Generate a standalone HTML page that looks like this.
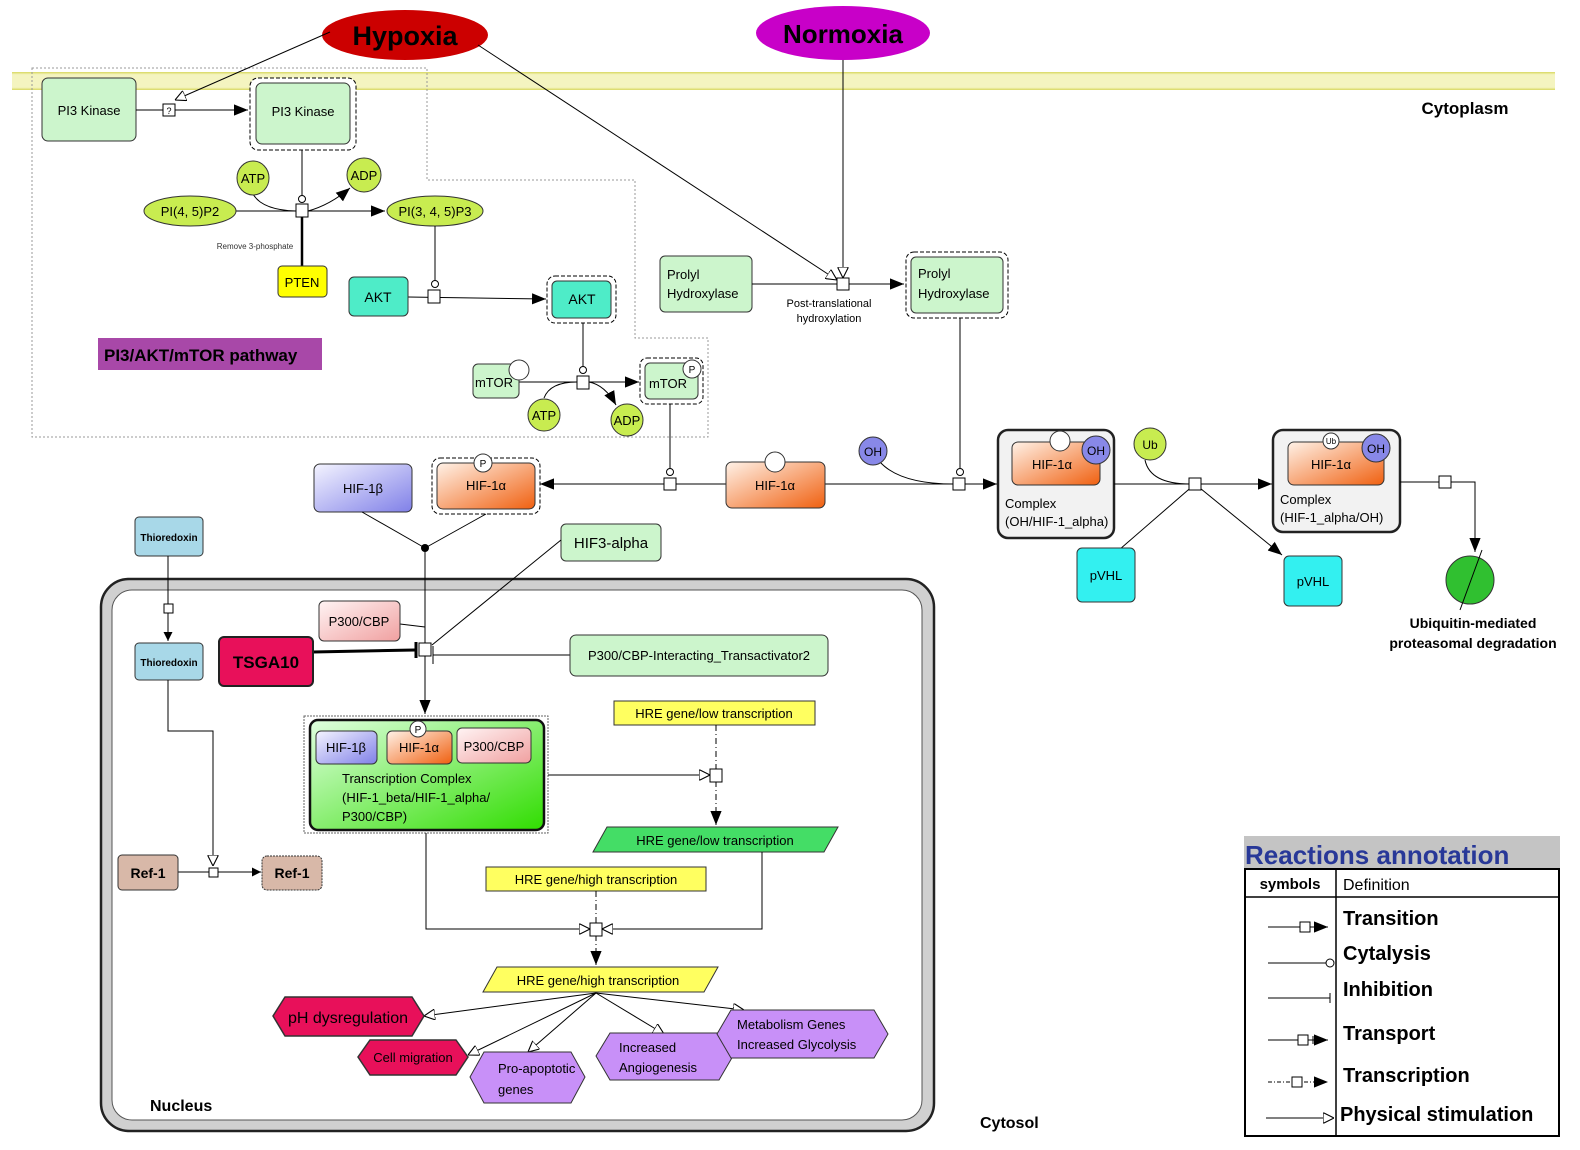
<!DOCTYPE html>
<html><head><meta charset="utf-8"><style>body{margin:0;background:#fff}svg{display:block}text{font-family:"Liberation Sans",sans-serif}</style></head><body>
<svg width="1580" height="1150" viewBox="0 0 1580 1150" xmlns="http://www.w3.org/2000/svg">
<defs>
<marker id="a" viewBox="0 0 10 10" refX="10" refY="5" markerWidth="9" markerHeight="9" orient="auto" markerUnits="userSpaceOnUse"><path d="M0,0L10,5L0,10z" fill="#000"/></marker>
<marker id="a2" viewBox="0 0 10 10" refX="10" refY="5" markerWidth="14" markerHeight="14" orient="auto" markerUnits="userSpaceOnUse"><path d="M0,1L10,5L0,9z" fill="#000"/></marker>
<marker id="o" viewBox="0 0 10 10" refX="10" refY="5" markerWidth="11" markerHeight="11" orient="auto" markerUnits="userSpaceOnUse"><path d="M0,0L10,5L0,10z" fill="#fff" stroke="#000" stroke-width="1"/></marker>
<linearGradient id="or" x1="0" y1="0" x2="1" y2="1"><stop offset="0" stop-color="#fff2e8"/><stop offset="1" stop-color="#f06010"/></linearGradient>
<linearGradient id="bl" x1="0" y1="0" x2="1" y2="1"><stop offset="0" stop-color="#f4f4ff"/><stop offset="1" stop-color="#8080e8"/></linearGradient>
<linearGradient id="pk" x1="0" y1="0" x2="1" y2="1"><stop offset="0" stop-color="#fff4f4"/><stop offset="1" stop-color="#f0a0a0"/></linearGradient>
<linearGradient id="gr" x1="0" y1="0" x2="1" y2="1"><stop offset="0" stop-color="#e0ffe0"/><stop offset="1" stop-color="#30dd00"/></linearGradient>
<linearGradient id="mb" x1="0" y1="0" x2="0" y2="1"><stop offset="0" stop-color="#d8d860"/><stop offset="0.15" stop-color="#f4f4c0"/><stop offset="0.85" stop-color="#f4f4c0"/><stop offset="1" stop-color="#d8d860"/></linearGradient>
</defs>

<!-- membrane -->
<rect x="12" y="72" width="1543" height="18" fill="url(#mb)"/>
<text x="1465" y="114" font-size="17" font-weight="bold" text-anchor="middle">Cytoplasm</text>

<!-- pathway region -->
<path d="M32,68H427V180H635V338H708V437H32Z" fill="none" stroke="#999" stroke-dasharray="2,2"/>

<!-- Hypoxia / Normoxia -->
<ellipse cx="405" cy="35" rx="83" ry="25" fill="#cc0000"/>
<text x="405" y="45" font-size="27" font-weight="bold" text-anchor="middle">Hypoxia</text>
<ellipse cx="843" cy="33" rx="87" ry="27" fill="#c800c8"/>
<text x="843" y="43" font-size="26" font-weight="bold" text-anchor="middle">Normoxia</text>
<line x1="330" y1="32" x2="175" y2="100" stroke="#000" marker-end="url(#o)"/>
<line x1="478" y1="45" x2="837" y2="280" stroke="#000" marker-end="url(#o)"/>
<line x1="843" y1="60" x2="843" y2="278" stroke="#000" marker-end="url(#o)"/>

<!-- PI3K -->
<rect x="42" y="78" width="94" height="63" rx="6" fill="#ccf5cc" stroke="#333"/>
<text x="89" y="115" font-size="13" text-anchor="middle">PI3 Kinase</text>
<line x1="136" y1="110" x2="248" y2="110" stroke="#000" marker-end="url(#a2)"/>
<rect x="163" y="104" width="12" height="12" fill="#fff" stroke="#000"/><text x="169" y="114" font-size="9" text-anchor="middle">?</text>
<rect x="250" y="78" width="106" height="72" rx="8" fill="#fff" stroke="#000" stroke-dasharray="4,2"/>
<rect x="256" y="83" width="94" height="61" rx="6" fill="#ccf5cc" stroke="#333"/>
<text x="303" y="116" font-size="13" text-anchor="middle">PI3 Kinase</text>

<line x1="302" y1="150" x2="302" y2="196" stroke="#000"/><circle cx="302" cy="199" r="3.5" fill="#fff" stroke="#000"/>
<line x1="236" y1="211" x2="385" y2="211" stroke="#000" marker-end="url(#a2)"/>
<path d="M253,194Q262,210 296,211" fill="none" stroke="#000"/>
<path d="M308,211Q330,205 350,188" fill="none" stroke="#000" marker-end="url(#a2)"/>
<line x1="302" y1="216" x2="302" y2="266" stroke="#000" stroke-width="2.5"/>
<rect x="296" y="204" width="12" height="13" fill="#fff" stroke="#000"/>
<ellipse cx="253" cy="178" rx="16" ry="17" fill="#c8ec50" stroke="#333"/><text x="253" y="183" font-size="13" text-anchor="middle">ATP</text>
<ellipse cx="364" cy="175" rx="17" ry="17" fill="#c8ec50" stroke="#333"/><text x="364" y="180" font-size="13" text-anchor="middle">ADP</text>
<ellipse cx="190" cy="211" rx="46" ry="15" fill="#c8ec50" stroke="#333"/><text x="190" y="216" font-size="13" text-anchor="middle">PI(4, 5)P2</text>
<ellipse cx="435" cy="211" rx="48" ry="15" fill="#c8ec50" stroke="#333"/><text x="435" y="216" font-size="13" text-anchor="middle">PI(3, 4, 5)P3</text>
<text x="255" y="249" font-size="8" text-anchor="middle" fill="#333">Remove 3-phosphate</text>
<rect x="278" y="266" width="49" height="31" rx="4" fill="#ffff00" stroke="#333"/><text x="302" y="287" font-size="13" text-anchor="middle">PTEN</text>

<!-- AKT -->
<line x1="435" y1="226" x2="435" y2="281" stroke="#000"/><circle cx="435" cy="284" r="3.5" fill="#fff" stroke="#000"/>
<line x1="408" y1="297" x2="546" y2="299" stroke="#000" marker-end="url(#a2)"/>
<rect x="428" y="290" width="12" height="13" fill="#fff" stroke="#000"/>
<rect x="349" y="277" width="59" height="39" rx="5" fill="#4eecc8" stroke="#333"/><text x="378" y="302" font-size="14" text-anchor="middle">AKT</text>
<rect x="547" y="276" width="69" height="47" rx="8" fill="#fff" stroke="#000" stroke-dasharray="4,2"/>
<rect x="552" y="281" width="59" height="37" rx="5" fill="#4eecc8" stroke="#333"/><text x="582" y="304" font-size="14" text-anchor="middle">AKT</text>

<rect x="98" y="338" width="224" height="32" fill="#a848a8"/>
<text x="104" y="361" font-size="17" font-weight="bold">PI3/AKT/mTOR pathway</text>

<!-- mTOR -->
<line x1="583" y1="323" x2="583" y2="367" stroke="#000"/><circle cx="583" cy="370" r="3.5" fill="#fff" stroke="#000"/>
<line x1="519" y1="382" x2="639" y2="382" stroke="#000" marker-end="url(#a2)"/>
<path d="M544,398Q550,382 577,382" fill="none" stroke="#000"/>
<path d="M589,382Q605,385 616,405" fill="none" stroke="#000" marker-end="url(#a2)"/>
<rect x="577" y="376" width="12" height="13" fill="#fff" stroke="#000"/>
<rect x="473" y="364" width="46" height="34" rx="5" fill="#ccf5cc" stroke="#333"/><text x="494" y="387" font-size="13" text-anchor="middle">mTOR</text>
<circle cx="519" cy="370" r="10" fill="#fff" stroke="#333"/>
<ellipse cx="544" cy="415" rx="16" ry="16" fill="#c8ec50" stroke="#333"/><text x="544" y="420" font-size="13" text-anchor="middle">ATP</text>
<ellipse cx="627" cy="420" rx="16" ry="16" fill="#c8ec50" stroke="#333"/><text x="627" y="425" font-size="13" text-anchor="middle">ADP</text>
<rect x="640" y="358" width="63" height="46" rx="7" fill="#fff" stroke="#000" stroke-dasharray="4,2"/>
<rect x="645" y="363" width="53" height="36" rx="5" fill="#ccf5cc" stroke="#333"/><text x="668" y="388" font-size="13" text-anchor="middle">mTOR</text>
<circle cx="692" cy="369" r="9" fill="#fff" stroke="#333"/><text x="692" y="373" font-size="10" text-anchor="middle">P</text>

<!-- Prolyl -->
<rect x="660" y="256" width="92" height="56" rx="5" fill="#ccf5cc" stroke="#333"/>
<text x="667" y="279" font-size="13">Prolyl</text><text x="667" y="298" font-size="13">Hydroxylase</text>
<line x1="752" y1="284" x2="904" y2="284" stroke="#000" marker-end="url(#a2)"/>
<rect x="837" y="278" width="12" height="12" fill="#fff" stroke="#000"/>
<text x="829" y="307" font-size="11" text-anchor="middle">Post-translational</text>
<text x="829" y="322" font-size="11" text-anchor="middle">hydroxylation</text>
<rect x="906" y="252" width="102" height="66" rx="8" fill="#fff" stroke="#000" stroke-dasharray="4,2"/>
<rect x="911" y="257" width="92" height="56" rx="5" fill="#ccf5cc" stroke="#333"/>
<text x="918" y="278" font-size="13">Prolyl</text><text x="918" y="298" font-size="13">Hydroxylase</text>

<!-- HIF row -->
<line x1="960" y1="318" x2="960" y2="469" stroke="#000"/><circle cx="960" cy="472" r="3.5" fill="#fff" stroke="#000"/>
<line x1="670" y1="404" x2="670" y2="469" stroke="#000"/><circle cx="670" cy="472" r="3.5" fill="#fff" stroke="#000"/>
<line x1="825" y1="484" x2="997" y2="484" stroke="#000" marker-end="url(#a2)"/>
<path d="M880,462Q900,484 954,484" fill="none" stroke="#000"/>
<rect x="953" y="478" width="12" height="12" fill="#fff" stroke="#000"/>
<line x1="726" y1="484" x2="540" y2="484" stroke="#000" marker-end="url(#a2)"/>
<rect x="664" y="478" width="12" height="12" fill="#fff" stroke="#000"/>
<rect x="726" y="462" width="99" height="46" rx="6" fill="url(#or)" stroke="#333"/><text x="775" y="490" font-size="13" text-anchor="middle">HIF-1α</text>
<circle cx="775" cy="462" r="10" fill="#fff" stroke="#333"/>
<circle cx="873" cy="451" r="14" fill="#8888e8" stroke="#333"/><text x="873" y="456" font-size="12" text-anchor="middle">OH</text>

<rect x="432" y="458" width="108" height="56" rx="8" fill="#fff" stroke="#000" stroke-dasharray="4,2"/>
<rect x="437" y="463" width="98" height="46" rx="6" fill="url(#or)" stroke="#333"/><text x="486" y="490" font-size="13" text-anchor="middle">HIF-1α</text>
<circle cx="483" cy="463" r="9" fill="#fff" stroke="#333"/><text x="483" y="467" font-size="10" text-anchor="middle">P</text>
<rect x="314" y="464" width="98" height="48" rx="6" fill="url(#bl)" stroke="#333"/><text x="363" y="493" font-size="13" text-anchor="middle">HIF-1β</text>

<!-- complexes -->
<rect x="998" y="430" width="116" height="108" rx="10" fill="#f2f2f2" stroke="#222" stroke-width="2.5"/>
<rect x="1012" y="442" width="88" height="43" rx="6" fill="url(#or)" stroke="#333"/><text x="1052" y="469" font-size="13" text-anchor="middle">HIF-1α</text>
<circle cx="1060" cy="441" r="10" fill="#fff" stroke="#333"/>
<circle cx="1096" cy="450" r="14" fill="#8888e8" stroke="#333"/><text x="1096" y="455" font-size="12" text-anchor="middle">OH</text>
<text x="1005" y="508" font-size="13">Complex</text><text x="1005" y="526" font-size="13">(OH/HIF-1_alpha)</text>

<line x1="1114" y1="484" x2="1272" y2="484" stroke="#000" marker-end="url(#a2)"/>
<path d="M1145,460Q1150,484 1190,484" fill="none" stroke="#000"/>
<line x1="1112" y1="556" x2="1195" y2="484" stroke="#000"/>
<line x1="1195" y1="484" x2="1282" y2="555" stroke="#000" marker-end="url(#a2)"/>
<rect x="1189" y="478" width="12" height="12" fill="#fff" stroke="#000"/>
<circle cx="1150" cy="444" r="16" fill="#c8ec50" stroke="#333"/><text x="1150" y="449" font-size="12" text-anchor="middle">Ub</text>
<rect x="1077" y="548" width="58" height="54" rx="5" fill="#33f0f0" stroke="#333"/><text x="1106" y="580" font-size="13" text-anchor="middle">pVHL</text>
<rect x="1284" y="556" width="58" height="50" rx="5" fill="#33f0f0" stroke="#333"/><text x="1313" y="586" font-size="13" text-anchor="middle">pVHL</text>

<rect x="1273" y="430" width="127" height="102" rx="10" fill="#f2f2f2" stroke="#222" stroke-width="2.5"/>
<rect x="1288" y="442" width="96" height="43" rx="6" fill="url(#or)" stroke="#333"/><text x="1331" y="469" font-size="13" text-anchor="middle">HIF-1α</text>
<circle cx="1331" cy="441" r="8" fill="#fff" stroke="#333"/><text x="1331" y="444" font-size="8" text-anchor="middle">Ub</text>
<circle cx="1376" cy="448" r="14" fill="#8888e8" stroke="#333"/><text x="1376" y="453" font-size="12" text-anchor="middle">OH</text>
<text x="1280" y="504" font-size="13">Complex</text><text x="1280" y="522" font-size="13">(HIF-1_alpha/OH)</text>
<path d="M1400,482H1475V552" fill="none" stroke="#000" marker-end="url(#a2)"/>
<rect x="1439" y="476" width="12" height="12" fill="#fff" stroke="#000"/>
<circle cx="1470" cy="580" r="24" fill="#30c030" stroke="#333"/>
<line x1="1460" y1="610" x2="1482" y2="550" stroke="#000"/>
<text x="1473" y="628" font-size="14" font-weight="bold" text-anchor="middle">Ubiquitin-mediated</text>
<text x="1473" y="648" font-size="14" font-weight="bold" text-anchor="middle">proteasomal degradation</text>

<!-- nucleus -->
<rect x="101" y="579" width="833" height="552" rx="28" fill="#d0d0d0" stroke="#222" stroke-width="2.5"/>
<rect x="112" y="590" width="810" height="530" rx="20" fill="#fff" stroke="#555"/>
<text x="150" y="1111" font-size="16" font-weight="bold" font-family="Liberation Serif,serif">Nucleus</text>
<text x="980" y="1128" font-size="16" font-weight="bold" font-family="Liberation Serif,serif">Cytosol</text>

<!-- merge -->
<line x1="362" y1="512" x2="425" y2="548" stroke="#000"/>
<line x1="486" y1="514" x2="425" y2="548" stroke="#000"/>
<circle cx="425" cy="548" r="4" fill="#000"/>
<line x1="425" y1="548" x2="425" y2="643" stroke="#000"/>
<rect x="561" y="524" width="100" height="37" rx="5" fill="#ccf5cc" stroke="#333"/><text x="611" y="548" font-size="15" text-anchor="middle">HIF3-alpha</text>
<line x1="561" y1="540" x2="432" y2="645" stroke="#000"/>
<line x1="400" y1="624" x2="425" y2="627" stroke="#000"/>
<rect x="319" y="601" width="81" height="40" rx="5" fill="url(#pk)" stroke="#333"/><text x="359" y="626" font-size="13" text-anchor="middle">P300/CBP</text>
<line x1="313" y1="652" x2="415" y2="650" stroke="#000" stroke-width="3"/>
<line x1="416" y1="642" x2="416" y2="658" stroke="#000" stroke-width="3"/>
<line x1="570" y1="655" x2="433" y2="655" stroke="#000"/><line x1="433" y1="646" x2="433" y2="664" stroke="#000"/>
<rect x="219" y="637" width="94" height="49" rx="5" fill="#e8105a" stroke="#222" stroke-width="2"/><text x="266" y="668" font-size="17" font-weight="bold" text-anchor="middle">TSGA10</text>
<rect x="570" y="635" width="258" height="41" rx="6" fill="#ccf5cc" stroke="#333"/><text x="699" y="660" font-size="13" text-anchor="middle">P300/CBP-Interacting_Transactivator2</text>
<line x1="425" y1="655" x2="425" y2="714" stroke="#000" marker-end="url(#a2)"/>
<rect x="419" y="643" width="12" height="13" fill="#fff" stroke="#000"/>

<!-- thioredoxin -->
<rect x="135" y="517" width="68" height="39" rx="4" fill="#a8d8e8" stroke="#333"/><text x="169" y="541" font-size="10" font-weight="bold" text-anchor="middle" font-family="Liberation Serif,serif">Thioredoxin</text>
<line x1="168" y1="556" x2="168" y2="641" stroke="#000" marker-end="url(#a)"/>
<rect x="164" y="604" width="9" height="9" fill="#fff" stroke="#000"/>
<rect x="135" y="643" width="68" height="37" rx="4" fill="#a8d8e8" stroke="#333"/><text x="169" y="666" font-size="10" font-weight="bold" text-anchor="middle" font-family="Liberation Serif,serif">Thioredoxin</text>
<path d="M168,680V731H213V866" fill="none" stroke="#000" marker-end="url(#o)"/>
<line x1="178" y1="872" x2="261" y2="872" stroke="#000" marker-end="url(#a)"/>
<rect x="209" y="868" width="9" height="9" fill="#fff" stroke="#000"/>
<rect x="118" y="855" width="60" height="35" rx="4" fill="#d8b8a8" stroke="#333"/><text x="148" y="878" font-size="14" font-weight="bold" text-anchor="middle" font-family="Liberation Serif,serif">Ref-1</text>
<rect x="262" y="856" width="60" height="34" rx="5" fill="#d8b8a8" stroke="#333" stroke-dasharray="2,1"/><text x="292" y="878" font-size="14" font-weight="bold" text-anchor="middle" font-family="Liberation Serif,serif">Ref-1</text>

<!-- transcription complex -->
<rect x="304" y="716" width="244" height="117" fill="#fff" stroke="#666" stroke-dasharray="2,1"/>
<rect x="310" y="720" width="234" height="110" rx="8" fill="url(#gr)" stroke="#111" stroke-width="2.5"/>
<rect x="316" y="731" width="61" height="33" rx="5" fill="url(#bl)" stroke="#333"/><text x="346" y="752" font-size="13" text-anchor="middle">HIF-1β</text>
<rect x="387" y="731" width="65" height="33" rx="5" fill="url(#or)" stroke="#333"/><text x="419" y="752" font-size="13" text-anchor="middle">HIF-1α</text>
<circle cx="418" cy="729" r="8" fill="#fff" stroke="#333"/><text x="418" y="733" font-size="10" text-anchor="middle">P</text>
<rect x="457" y="728" width="74" height="35" rx="5" fill="url(#pk)" stroke="#333"/><text x="494" y="751" font-size="13" text-anchor="middle">P300/CBP</text>
<text x="342" y="783" font-size="13">Transcription Complex</text>
<text x="342" y="802" font-size="13">(HIF-1_beta/HIF-1_alpha/</text>
<text x="342" y="821" font-size="13">P300/CBP)</text>

<!-- HRE -->
<rect x="614" y="701" width="201" height="24" fill="#ffff60" stroke="#333"/><text x="714" y="718" font-size="13" text-anchor="middle">HRE gene/low transcription</text>
<line x1="716" y1="725" x2="716" y2="769" stroke="#000" stroke-dasharray="6,3,1,3"/>
<line x1="548" y1="775" x2="710" y2="775" stroke="#000" marker-end="url(#o)"/>
<line x1="716" y1="781" x2="716" y2="825" stroke="#000" stroke-dasharray="6,3,1,3" marker-end="url(#a2)"/>
<rect x="710" y="769" width="12" height="13" fill="#fff" stroke="#000"/>
<path d="M607,827H838L824,852H593Z" fill="#44dd66" stroke="#333"/><text x="715" y="845" font-size="13" text-anchor="middle">HRE gene/low transcription</text>
<rect x="486" y="867" width="220" height="24" fill="#ffff60" stroke="#333"/><text x="596" y="884" font-size="13" text-anchor="middle">HRE gene/high transcription</text>
<line x1="596" y1="891" x2="596" y2="923" stroke="#000" stroke-dasharray="6,3,1,3"/>
<path d="M426,833V929H590" fill="none" stroke="#000" marker-end="url(#o)"/>
<path d="M762,852V929H602" fill="none" stroke="#000" marker-end="url(#o)"/>
<line x1="596" y1="935" x2="596" y2="965" stroke="#000" stroke-dasharray="6,3,1,3" marker-end="url(#a2)"/>
<rect x="590" y="923" width="12" height="13" fill="#fff" stroke="#000"/>
<path d="M497,967H718L704,992H483Z" fill="#ffff60" stroke="#333"/><text x="598" y="985" font-size="13" text-anchor="middle">HRE gene/high transcription</text>

<!-- outputs -->
<g stroke="#000" fill="none">
<line x1="596" y1="993" x2="424" y2="1016" marker-end="url(#o)"/>
<line x1="596" y1="993" x2="468" y2="1055" marker-end="url(#o)"/>
<line x1="596" y1="993" x2="528" y2="1052" marker-end="url(#o)"/>
<line x1="596" y1="993" x2="664" y2="1034" marker-end="url(#o)"/>
<line x1="596" y1="993" x2="744" y2="1010" marker-end="url(#o)"/>
</g>
<path d="M285,997H412L424,1016L412,1036H285L273,1016Z" fill="#e8105a" stroke="#333" stroke-width="1.5"/><text x="348" y="1023" font-size="16" text-anchor="middle">pH dysregulation</text>
<path d="M370,1040H456L468,1057L456,1075H370L358,1057Z" fill="#e8105a" stroke="#333" stroke-width="1.5"/><text x="413" y="1062" font-size="13" text-anchor="middle">Cell migration</text>
<path d="M484,1052H571L585,1077L571,1103H484L470,1077Z" fill="#c890f8" stroke="#333"/><text x="498" y="1073" font-size="13">Pro-apoptotic</text><text x="498" y="1094" font-size="13">genes</text>
<path d="M610,1033H719L733,1056L719,1080H610L596,1056Z" fill="#c890f8" stroke="#333"/><text x="619" y="1052" font-size="13">Increased</text><text x="619" y="1072" font-size="13">Angiogenesis</text>
<path d="M731,1010H874L888,1034L874,1058H731L717,1034Z" fill="#c890f8" stroke="#333"/><text x="737" y="1029" font-size="13">Metabolism Genes</text><text x="737" y="1049" font-size="13">Increased Glycolysis</text>

<!-- legend -->
<rect x="1244" y="836" width="316" height="32" fill="#c4c4c4"/>
<text x="1245" y="864" font-size="26" font-weight="bold" fill="#283898">Reactions annotation</text>
<rect x="1245" y="869" width="314" height="267" fill="#fff" stroke="#000" stroke-width="2"/>
<line x1="1245" y1="897" x2="1559" y2="897" stroke="#000" stroke-width="1.5"/>
<line x1="1336" y1="869" x2="1336" y2="1136" stroke="#000" stroke-width="1.5"/>
<text x="1290" y="889" font-size="15" font-weight="bold" text-anchor="middle">symbols</text>
<text x="1343" y="890" font-size="16">Definition</text>
<g font-size="20" font-weight="bold">
<text x="1343" y="925">Transition</text>
<text x="1343" y="960">Cytalysis</text>
<text x="1343" y="996">Inhibition</text>
<text x="1343" y="1040">Transport</text>
<text x="1343" y="1082">Transcription</text>
<text x="1340" y="1121">Physical stimulation</text>
</g>
<g stroke="#000" fill="none">
<line x1="1268" y1="927" x2="1328" y2="927" marker-end="url(#a2)"/><rect x="1300" y="922" width="10" height="10" fill="#fff"/>
<line x1="1268" y1="963" x2="1326" y2="963"/><circle cx="1330" cy="963" r="4" fill="#fff"/>
<line x1="1268" y1="998" x2="1330" y2="998"/><line x1="1330" y1="993" x2="1330" y2="1003"/>
<line x1="1268" y1="1040" x2="1328" y2="1040" marker-end="url(#a2)"/><rect x="1298" y="1035" width="10" height="10" fill="#fff"/><line x1="1313" y1="1036" x2="1313" y2="1044"/>
<line x1="1268" y1="1082" x2="1328" y2="1082" stroke-dasharray="4,2,1,2" marker-end="url(#a2)"/><rect x="1292" y="1077" width="10" height="10" fill="#fff"/>
<line x1="1266" y1="1118" x2="1334" y2="1118" marker-end="url(#o)"/>
</g>
</svg>
</body></html>
